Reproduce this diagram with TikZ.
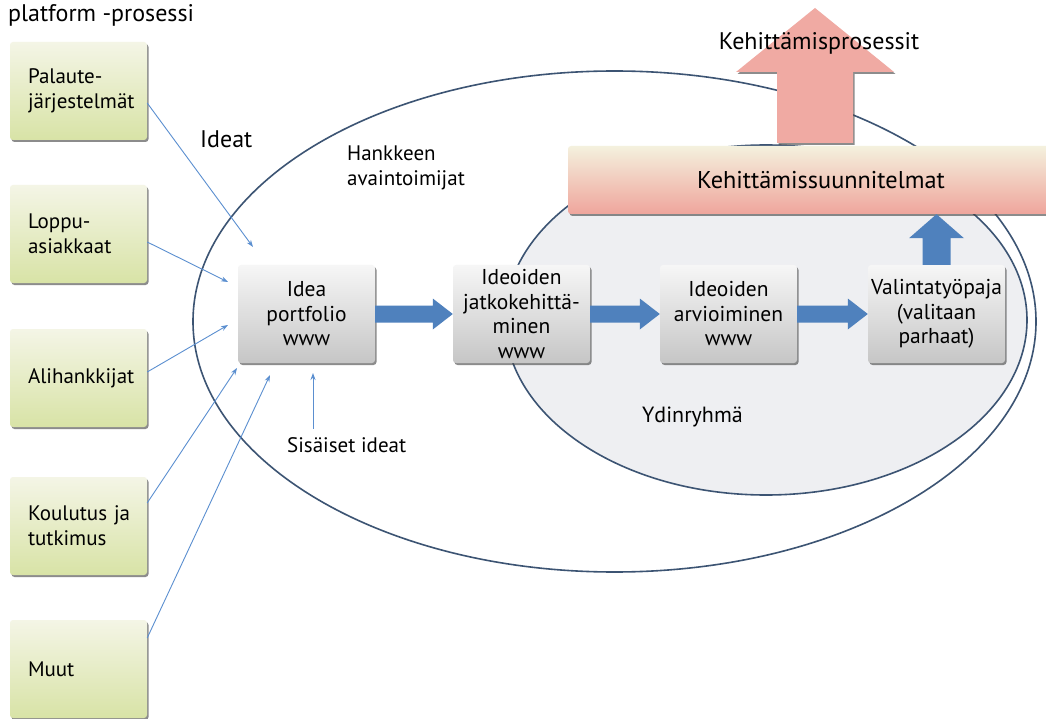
\documentclass[tikz,border=0pt]{standalone}
\usepackage{fontspec}
\setmainfont{PT Sans}
\usetikzlibrary{calc,shadows,arrows.meta}
\definecolor{outl}{HTML}{3C5473}
\definecolor{thinblue}{HTML}{5B8FD0}
\definecolor{bigblue}{HTML}{4F81BD}
\definecolor{pinkA}{HTML}{F0AAA3}
\definecolor{greenT}{HTML}{F4F5E6}
\definecolor{greenB}{HTML}{D8E3A6}
\definecolor{greyT}{HTML}{F6F6F6}
\definecolor{greyB}{HTML}{C6C6C6}
\definecolor{bannerT}{HTML}{F4F1DE}
\definecolor{bannerB}{HTML}{EFA59C}
\definecolor{innerfill}{HTML}{EEEFF2}
\newcommand\bigharrow[2]{%
  \fill[bigblue] ($(#1.east)+(0,-8.5)$) -- ($(#2.west)+(-20,-8.5)$) -- ($(#2.west)+(-20,-15.5)$) -- (#2.west) -- ($(#2.west)+(-20,15.5)$) -- ($(#2.west)+(-20,8.5)$) -- ($(#1.east)+(0,8.5)$) -- cycle;}
\begin{document}
\begin{tikzpicture}[x=1pt,y=-1pt,
  shad/.style={drop shadow={shadow xshift=1.5pt,shadow yshift=-2pt,opacity=0.6,fill=black!75}},
  srcbox/.style={shad, rounded corners=3pt, minimum width=137pt, minimum height=98pt, top color=greenT, bottom color=greenB, text width=101pt, inner xsep=18pt, align=left, font=\fontsize{21}{25}\selectfont},
  stepbox/.style={shad, rounded corners=3pt, minimum width=137pt, minimum height=98pt, top color=greyT, bottom color=greyB, text width=133pt, inner xsep=2pt, align=center, font=\fontsize{21.5}{24.5}\selectfont},
  banner/.style={shad, rounded corners=3pt, minimum width=506pt, minimum height=68pt, top color=bannerT, bottom color=bannerB, font=\fontsize{24.3}{28}\selectfont},
  lbl/.style={font=\fontsize{21}{25}\selectfont, inner sep=0pt},
  thinarr/.style={thinblue, line width=0.9pt, -{Stealth[length=7pt,width=5pt]}},
  ell/.style={outl, line width=1.6pt}
]
\useasboundingbox (0,0) rectangle (1046,719);
\fill[white] (0,0) rectangle (1046,719);

% outer ellipse
\draw[ell] (614.5,321.5) ellipse [x radius=421.5pt, y radius=250.5pt];

% source boxes
\node[srcbox] (g1) at (78.5,91) {Palaute-\\järjestelmät};
\node[srcbox] (g2) at (78.5,234) {Loppu-\\asiakkaat};
\node[srcbox] (g3) at (78.5,378) {Alihankkijat};
\node[srcbox] (g4) at (78.5,526) {Koulutus~ja\\tutkimus};
\node[srcbox] (g5) at (78.5,669) {Muut};

% labels
\node[lbl, anchor=base west, font=\fontsize{24}{28}\selectfont] (title) at (8,22) {platform -prosessi};
\node[lbl, anchor=base west, font=\fontsize{24}{28}\selectfont] (ideat) at (200,148) {Ideat};
\node[lbl, anchor=west, align=left] (hank) at (347,168) {Hankkeen\\avaintoimijat};
\node[lbl, anchor=base west] (sis) at (287,452) {Sisäiset ideat};

% free ends of the idea connectors
\coordinate (e1) at (253,247);
\coordinate (e2) at (228,282);
\coordinate (e3) at (228,325);
\coordinate (e4) at (237,368);
\coordinate (e5) at (270,375);
\coordinate (e6) at (313,373);

\draw[thinarr] ($(g1.east)+(0,12)$) -- (e1);
\draw[thinarr] ($(g2.east)+(0,8)$) -- (e2);
\draw[thinarr] ($(g3.east)+(0,-6)$) -- (e3);
\draw[thinarr] ($(g4.east)+(0,-23)$) -- (e4);
\draw[thinarr] ($(g5.east)+(0,-31)$) -- (e5);
\draw[thinarr] ($(sis.north -| e6)+(0,-8)$) -- (e6);

% inner ellipse
\draw[ell, fill=innerfill] (766,320) ellipse [x radius=261pt, y radius=175pt];
\node[lbl, anchor=base west, font=\fontsize{22}{26}\selectfont] (ydin) at (642,422) {Ydinryhmä};

% process boxes
\node[stepbox] (A) at (306.5,314) {Idea\\portfolio\\www};
\node[stepbox] (B) at (521.5,314) {Ideoiden\\jatkokehittä-\\minen\\www};
\node[stepbox] (C) at (728.5,314) {Ideoiden\\arvioiminen\\www};
\node[stepbox] (D) at (936.5,314) {Valintatyöpaja\\(valitaan\\parhaat)};

\bigharrow{A}{B}
\bigharrow{B}{C}
\bigharrow{C}{D}

% pink arrow
\coordinate (ptip) at (815,8);
\node[banner] (ban) at (821,180) {Kehittämissuunnitelmat};
\fill[pinkA, shad] ($(ptip |- ban.north)+(-38,-3)$) -- ($(ptip)+(-38,64)$) -- ($(ptip)+(-79,64)$) -- (ptip) -- ($(ptip)+(79,64)$) -- ($(ptip)+(38,64)$) -- ($(ptip |- ban.north)+(38,-3)$) -- cycle;
\node[lbl, anchor=base, font=\fontsize{24}{28}\selectfont] (kp) at (819,50) {Kehittämisprosessit};

% blue up arrow
\coordinate (btip) at (D.north |- ban.south);
\fill[bigblue] ($(D.north)+(-14,0)$) -- ($(btip)+(-14,24)$) -- ($(btip)+(-27.5,24)$) -- (btip) -- ($(btip)+(27.5,24)$) -- ($(btip)+(14,24)$) -- ($(D.north)+(14,0)$) -- cycle;
\end{tikzpicture}
\end{document}
